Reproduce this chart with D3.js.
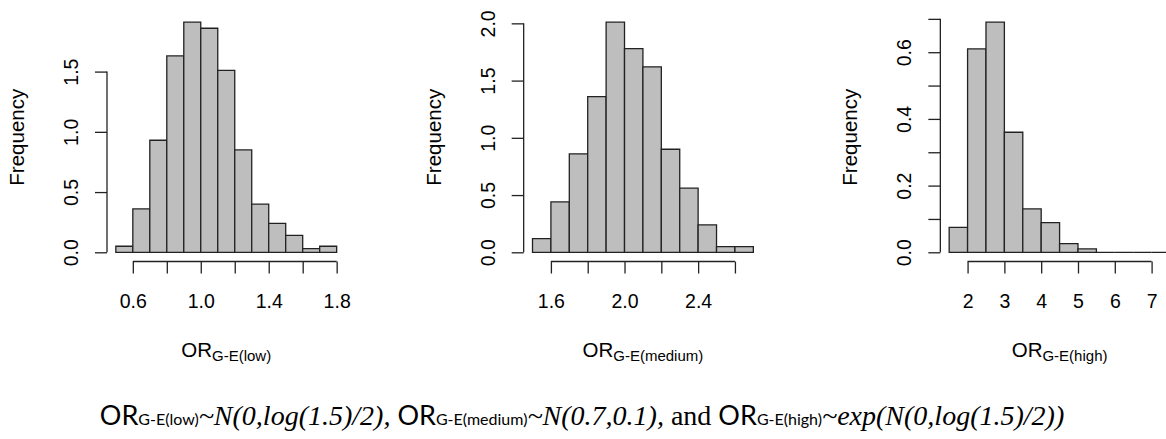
<!DOCTYPE html>
<html>
<head>
<meta charset="utf-8">
<script src="https://cdn.jsdelivr.net/npm/d3@7"></script>
<style>
  html, body { margin: 0; padding: 0; background: #fff; }
  svg { display: block; }
  .tick text, .lab { font-family: "Liberation Sans", Arial, sans-serif; fill: #000; }
</style>
</head>
<body>
<svg id="chart" width="1166" height="439"></svg>
<script>
// ---------- DATA ----------
const lowBreaks = [0.5, 0.6, 0.7, 0.8, 0.9, 1.0, 1.1, 1.2, 1.3, 1.4, 1.5, 1.6, 1.7, 1.8];
const lowDensity = [0.05, 0.36, 0.93, 1.63, 1.91, 1.86, 1.51, 0.85, 0.40, 0.24, 0.14, 0.03, 0.05];
const lowXTicks = [0.6, 0.8, 1.0, 1.2, 1.4, 1.6, 1.8];
const lowXLabels = ["0.6", "", "1.0", "", "1.4", "", "1.8"];
const lowYTicks = [0, 0.5, 1.0, 1.5];
const lowYLabels = ["0.0", "0.5", "1.0", "1.5"];

const medBreaks = [1.5, 1.6, 1.7, 1.8, 1.9, 2.0, 2.1, 2.2, 2.3, 2.4, 2.5, 2.6, 2.7];
const medDensity = [0.12, 0.44, 0.86, 1.36, 2.01, 1.78, 1.62, 0.90, 0.56, 0.24, 0.05, 0.05];
const medXTicks = [1.6, 1.8, 2.0, 2.2, 2.4, 2.6];
const medXLabels = ["1.6", "", "2.0", "", "2.4", ""];
const medYTicks = [0, 0.5, 1.0, 1.5, 2.0];
const medYLabels = ["0.0", "0.5", "1.0", "1.5", "2.0"];

const highBreaks = [1.5, 2.0, 2.5, 3.0, 3.5, 4.0, 4.5, 5.0, 5.5, 6.0, 6.5, 7.0, 7.5];
const highDensity = [0.075, 0.61, 0.69, 0.36, 0.13, 0.089, 0.026, 0.01, 0, 0, 0, 0];
const highXTicks = [2, 3, 4, 5, 6, 7];
const highXLabels = ["2", "3", "4", "5", "6", "7"];
const highYTicks = [0, 0.1, 0.2, 0.3, 0.4, 0.5, 0.6, 0.7];
const highYLabels = ["0.0", "", "0.2", "", "0.4", "", "0.6", ""];

const yTitle = "Frequency";
const xTitleMain = "OR";
const xTitleSubs = ["G-E(low)", "G-E(medium)", "G-E(high)"];

// ---------- LAYOUT ----------
const svg = d3.select("#chart");
const panelW = 416.67;
const plotL = 107, plotR = 345.5, plotT = 13, plotB = 261.5;
const fs = 19.5;

const panels = [
  {breaks: lowBreaks, dens: lowDensity, xt: lowXTicks, xl: lowXLabels, yt: lowYTicks, yl: lowYLabels, sub: xTitleSubs[0]},
  {breaks: medBreaks, dens: medDensity, xt: medXTicks, xl: medXLabels, yt: medYTicks, yl: medYLabels, sub: xTitleSubs[1]},
  {breaks: highBreaks, dens: highDensity, xt: highXTicks, xl: highXLabels, yt: highYTicks, yl: highYLabels, sub: xTitleSubs[2]}
];

panels.forEach((p, i) => {
  const g = svg.append("g").attr("transform", `translate(${i * panelW},0)`);
  const xmin = p.breaks[0], xmax = p.breaks[p.breaks.length - 1];
  const xr = xmax - xmin;
  const ymax = d3.max(p.dens);
  const x = d3.scaleLinear().domain([xmin - 0.04 * xr, xmax + 0.04 * xr]).range([plotL, plotR]);
  const y = d3.scaleLinear().domain([-0.04 * ymax, ymax * 1.04]).range([plotB, plotT]);

  // bars
  const bins = p.dens.map((d, k) => ({x0: p.breaks[k], x1: p.breaks[k + 1], v: d}));
  g.append("g").selectAll("path").data(bins).join("path")
    .attr("d", b => `M${x(b.x0)},${y(0)}V${y(b.v)}H${x(b.x1)}V${y(0)}Z`)
    .attr("fill", "#bebebe")
    .attr("stroke", "#222")
    .attr("stroke-width", 1.3);

  // x axis
  const xa = g.append("g").attr("transform", `translate(0,${plotB})`)
    .call(d3.axisBottom(x).tickValues(p.xt).tickSize(12).tickSizeOuter(0)
      .tickFormat((d, k) => p.xl[k]));
  xa.select(".domain").remove();
  xa.append("line").attr("x1", x(p.xt[0])).attr("x2", x(p.xt[p.xt.length - 1]))
    .attr("stroke", "#222").attr("stroke-width", 1.3);
  xa.selectAll(".tick line").attr("stroke", "#222").attr("stroke-width", 1.3);
  xa.selectAll(".tick text").attr("y", 46).attr("dy", null)
    .style("font-size", fs + "px");

  // y axis
  const ya = g.append("g").attr("transform", `translate(${plotL},0)`)
    .call(d3.axisLeft(y).tickValues(p.yt).tickSize(12).tickSizeOuter(0)
      .tickFormat((d, k) => p.yl[k]));
  ya.select(".domain").remove();
  ya.append("line").attr("y1", y(p.yt[0])).attr("y2", y(p.yt[p.yt.length - 1]))
    .attr("stroke", "#222").attr("stroke-width", 1.3);
  ya.selectAll(".tick line").attr("stroke", "#222").attr("stroke-width", 1.3);
  ya.selectAll(".tick text").attr("x", null).attr("dy", null)
    .attr("transform", "translate(-29,0) rotate(-90)")
    .attr("text-anchor", "middle")
    .style("font-size", fs + "px");

  // titles
  g.append("text").attr("class", "lab")
    .attr("transform", `translate(${plotL - 83},${(plotT + plotB) / 2}) rotate(-90)`)
    .attr("text-anchor", "middle").style("font-size", "20.5px").text(yTitle);

  const xt = g.append("text").attr("class", "lab")
    .attr("x", (plotL + plotR) / 2).attr("y", 357).attr("text-anchor", "middle")
    .style("font-size", "20.5px");
  xt.append("tspan").text(xTitleMain);
  xt.append("tspan").attr("dy", 4).style("font-size", "15px").text(p.sub);
});

// ---------- CAPTION ----------
const cap = svg.append("text").attr("x", 582).attr("y", 425).attr("text-anchor", "middle")
  .style("font-family", "'Liberation Serif', 'Times New Roman', serif").style("font-size", "28px").attr("fill", "#000");
const capParts = [
  {t: "OR", k: "sans"}, {t: "G-E(low)", k: "sub"}, {t: "~N(0,log(1.5)/2),", k: "it"}, {t: " ", k: "rm"},
  {t: "OR", k: "sans"}, {t: "G-E(medium)", k: "sub"}, {t: "~N(0.7,0.1),", k: "it"}, {t: " and ", k: "rm"},
  {t: "OR", k: "sans"}, {t: "G-E(high)", k: "sub"}, {t: "~exp(N(0,log(1.5)/2))", k: "it"}
];
capParts.forEach(c => {
  const ts = cap.append("tspan").text(c.t);
  if (c.k === "sans") ts.style("font-family", "Lato, 'Open Sans', sans-serif").style("font-size", "27px");
  if (c.k === "sub") ts.style("font-family", "Lato, 'Open Sans', sans-serif").style("font-size", "16px");
  if (c.k === "it") ts.style("font-style", "italic");
});
</script>
</body>
</html>
